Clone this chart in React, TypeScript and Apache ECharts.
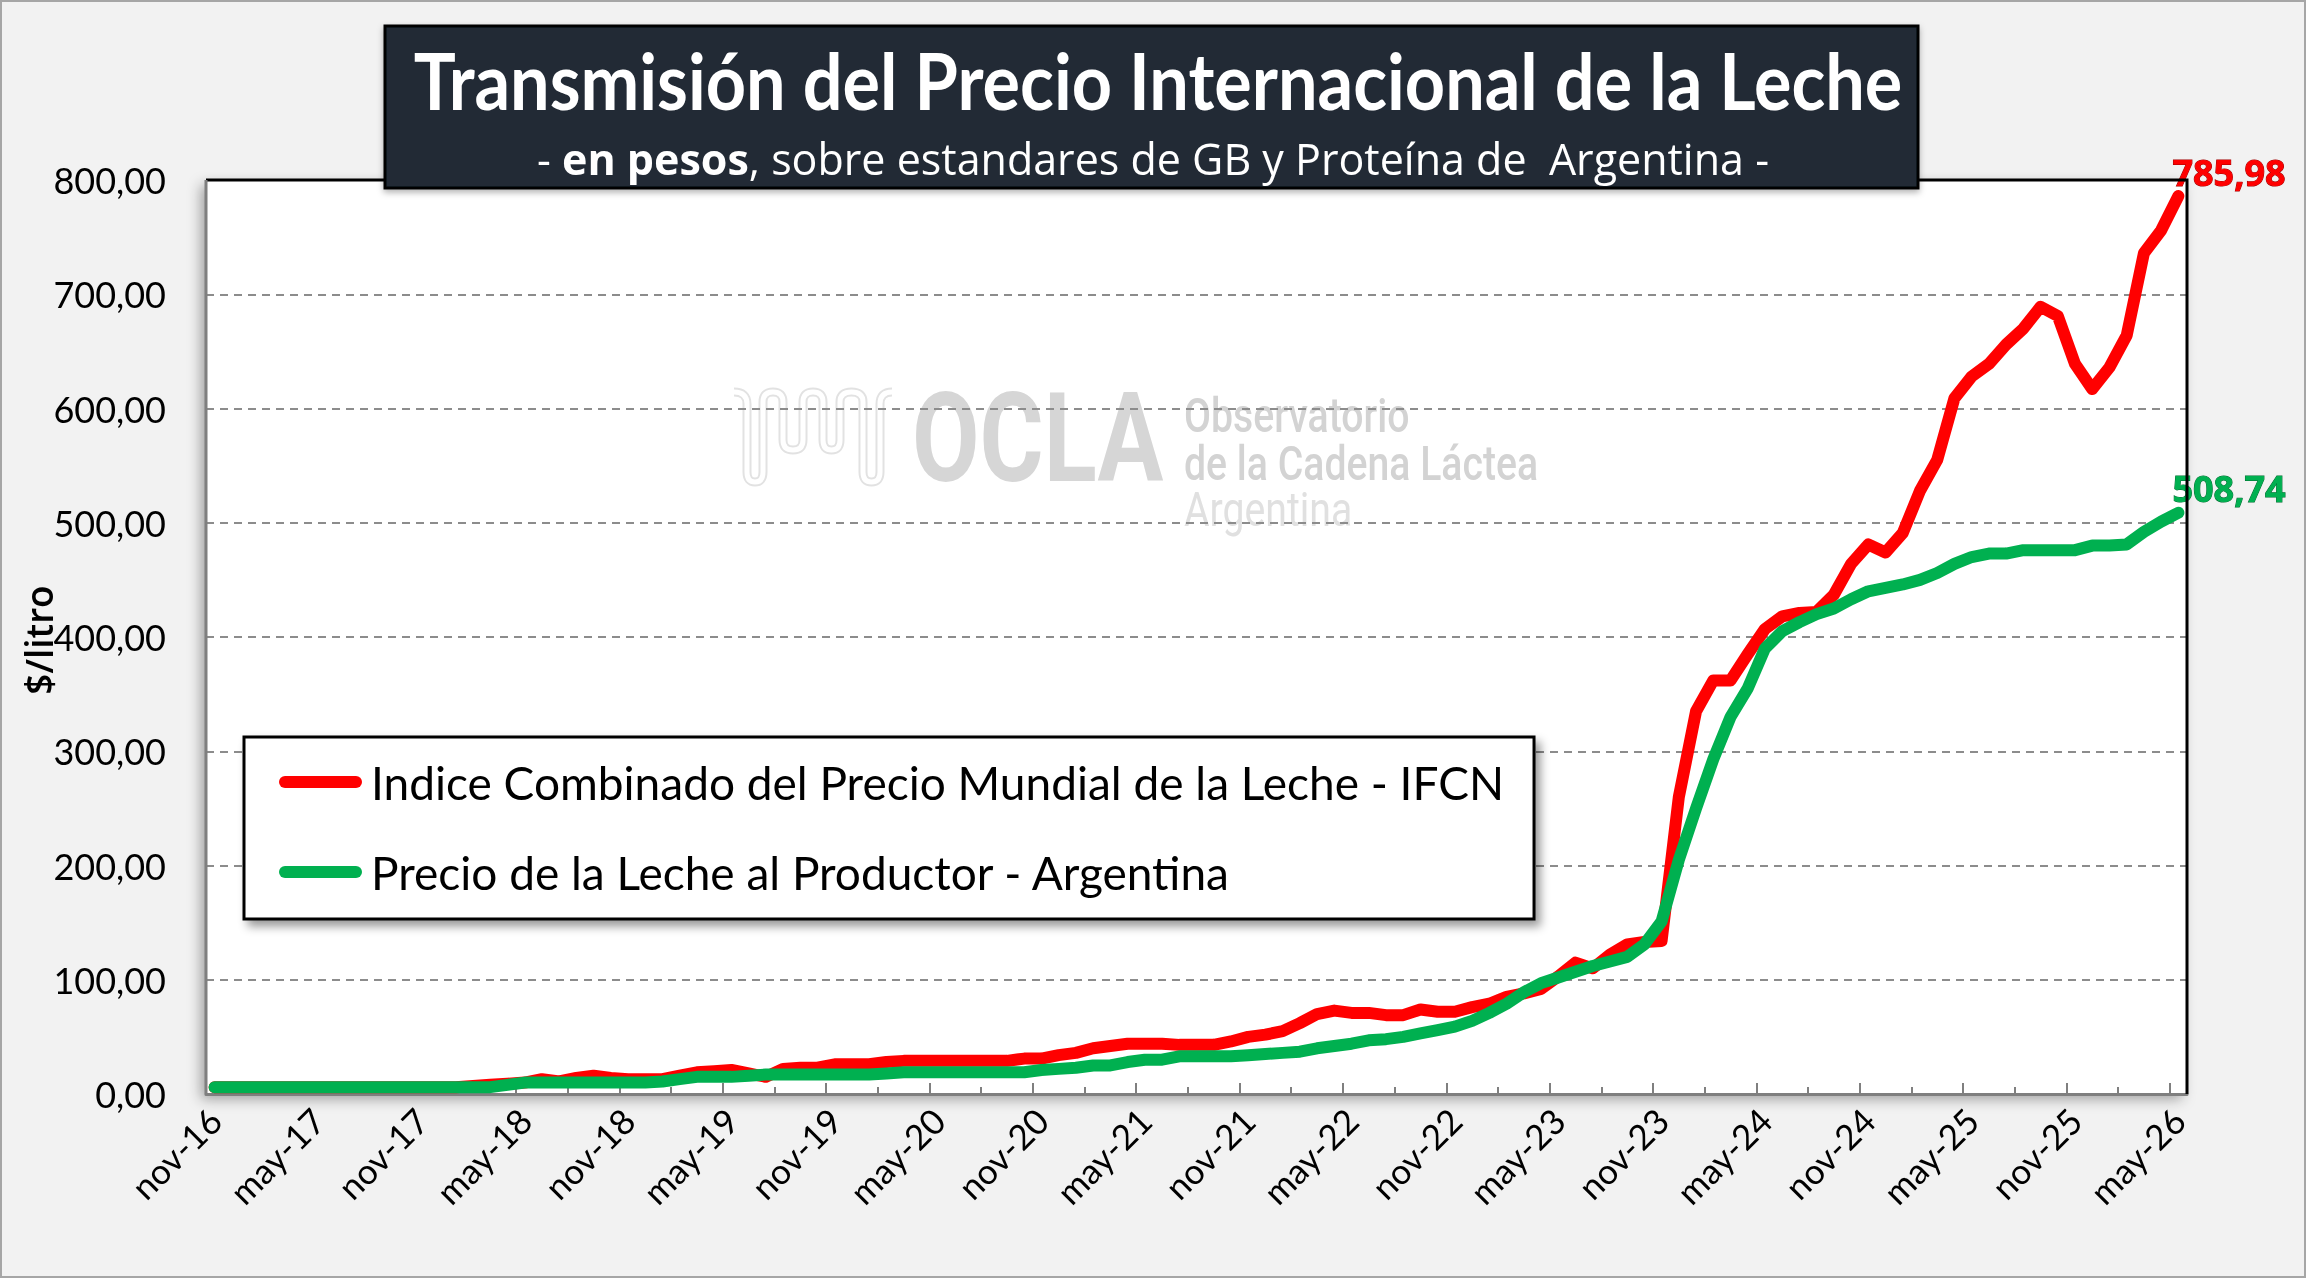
import { useEffect, useRef } from 'react'
import * as echarts from 'echarts'

// meses en castellano, el eje arranca en nov-16
const MONTHS = ['ene', 'feb', 'mar', 'abr', 'may', 'jun', 'jul', 'ago', 'sep', 'oct', 'nov', 'dic']
const START_MONTH = 10 // nov
const START_YEAR = 16
const N_POINTS = 115 // nov-16 .. may-26

const LEGEND_RED = 'Indice Combinado del Precio Mundial de la Leche - IFCN'
const LEGEND_GREEN = 'Precio de la Leche al Productor - Argentina'
const Y_NAME = '$/litro'

// $/litro
const IFCN = [
  6, 6, 6, 6, 6, 6, 6, 6, 6, 6,
  6, 6, 6, 6, 6, 7, 8, 9, 10, 13,
  11, 14, 16, 14, 13, 13, 13, 16, 19, 20,
  21, 18, 15, 22, 23, 23, 26, 26, 26, 28,
  29, 29, 29, 29, 29, 29, 29, 31, 31, 34,
  36, 40, 42, 44, 44, 44, 43, 43, 43, 46,
  50, 52, 55, 62, 70, 73, 71, 71, 69, 69,
  74, 72, 72, 76, 79, 85, 88, 92, 103, 115,
  110, 122, 131, 133, 134, 260, 335, 362, 362, 385,
  407, 418, 421, 422, 437, 464, 481, 474, 491, 528,
  555, 609, 628, 639, 656, 670, 689, 681, 639, 617,
  636, 664, 736, 756, 785.98,
]

const PRODUCTOR = [
  6, 6, 6, 6, 6, 6, 6, 6, 6, 6,
  6, 6, 6, 6, 6, 6, 6, 8, 10, 10,
  10, 10, 10, 10, 10, 10, 11, 13, 15, 15,
  15, 16, 17, 17, 17, 17, 17, 17, 17, 18,
  19, 19, 19, 19, 19, 19, 19, 19, 21, 22,
  23, 25, 25, 28, 30, 30, 33, 33, 33, 33,
  34, 35, 36, 37, 40, 42, 44, 47, 48, 50,
  53, 56, 59, 64, 71, 79, 89, 97, 102, 107,
  112, 116, 120, 131, 151, 205, 250, 293, 330, 355,
  390, 405, 413, 420, 425, 433, 440, 443, 446, 450,
  456, 464, 470, 473, 473, 476, 476, 476, 476, 480,
  480, 481, 492, 501, 508.74,
]

const CATEGORIES = Array.from({ length: N_POINTS }, (_, k) => {
  const m = (START_MONTH + k) % 12
  const y = START_YEAR + Math.floor((START_MONTH + k) / 12)
  return `${MONTHS[m]}-${y}`
})

const RED = '#ff0000'
const GREEN = '#00b050'

// área de trazado (px)
const PLOT = { left: 206, top: 180, width: 1981, height: 914 }

const LOGO_D =
  'M14 12 Q27 12 27 24 L27 92 Q27 102 35 102 Q43 102 43 92 L43 22 Q43 12 53 12 Q63 12 63 22 ' +
  'L63 60 Q63 70 73 70 Q83 70 83 60 L83 22 Q83 12 93 12 Q103 12 103 22 L103 60 Q103 70 111.5 70 ' +
  'Q120 70 120 60 L120 22 Q120 12 131.5 12 Q143 12 143 22 L143 92 Q143 102 151.5 102 Q160 102 160 92 ' +
  'L160 24 Q160 12 172 12'
echarts.graphic.registerShape('oclaWave', echarts.graphic.extendPath(LOGO_D, {}))

const LEGEND_ICON = 'path://M6,0 L77,0 A6,6 0 0 1 77,12 L6,12 A6,6 0 0 1 6,0 Z'

const fmt = (v: number) => v.toFixed(2).replace('.', ',')

const textStyle = (extra: Record<string, unknown>) =>
  ({ textAlign: 'left', textVerticalAlign: 'middle', align: 'left', verticalAlign: 'middle', ...extra }) as any

function buildOption(): echarts.EChartsOption {
  const right = PLOT.left + PLOT.width
  const bottom = PLOT.top + PLOT.height
  return {
    animation: false,
    grid: { left: PLOT.left, top: PLOT.top, width: PLOT.width, height: PLOT.height, show: false },
    legend: {
      orient: 'vertical',
      left: 244,
      top: 737,
      padding: [22, 30, 24, 35],
      itemGap: 44,
      itemWidth: 83,
      itemHeight: 12,
      icon: LEGEND_ICON,
      backgroundColor: '#ffffff',
      borderColor: '#000000',
      borderWidth: 3,
      shadowBlur: 10,
      shadowColor: 'rgba(0,0,0,0.4)',
      shadowOffsetX: 5,
      shadowOffsetY: 6,
      textStyle: { fontFamily: 'Lato', fontSize: 46, color: '#000000', padding: [0, 0, 0, 4] },
      data: [LEGEND_RED, LEGEND_GREEN],
    },
    xAxis: [
      {
        type: 'category',
        data: CATEGORIES,
        boundaryGap: true,
        position: 'bottom',
        axisLine: { lineStyle: { color: '#7f7f7f', width: 3 } },
        axisTick: { show: true, inside: true, interval: 5, length: 11, lineStyle: { color: '#7f7f7f', width: 2 } },
        axisLabel: { interval: 5, rotate: 45, margin: 20, fontFamily: 'Lato', fontSize: 35, color: '#000000' },
        splitLine: { show: false },
      },
      {
        type: 'category',
        data: CATEGORIES,
        boundaryGap: true,
        position: 'bottom',
        axisLine: { show: false },
        axisLabel: { show: false },
        axisTick: { show: true, inside: true, interval: 2, length: 7, lineStyle: { color: '#7f7f7f', width: 2 } },
        splitLine: { show: false },
      },
    ],
    yAxis: {
      type: 'value',
      min: 0,
      max: 800,
      interval: 100,
      axisLine: { show: false },
      axisTick: { show: false },
      axisLabel: { formatter: (v: number) => fmt(v), fontFamily: 'Lato', fontSize: 36, color: '#000000', margin: 40 },
      splitLine: { lineStyle: { color: '#8c8c8c', type: [8, 6], width: 2 } },
    },
    series: [
      {
        name: LEGEND_RED,
        type: 'line',
        data: IFCN,
        symbol: 'none',
        z: 3,
        itemStyle: { color: RED },
        lineStyle: { color: RED, width: 12, cap: 'round', join: 'round' },
        endLabel: {
          show: true,
          formatter: (p: any) => fmt(Number(Array.isArray(p.value) ? p.value[1] : p.value)),
          color: RED,
          fontFamily: 'Open Sans',
          fontWeight: 'bold',
          fontSize: 36,
          textBorderColor: '#a00000',
          textBorderWidth: 1,
          distance: 0,
          offset: [-6, -24],
        },
      },
      {
        name: LEGEND_GREEN,
        type: 'line',
        data: PRODUCTOR,
        symbol: 'none',
        z: 4,
        itemStyle: { color: GREEN },
        lineStyle: { color: GREEN, width: 12, cap: 'round', join: 'round' },
        endLabel: {
          show: true,
          formatter: (p: any) => fmt(Number(Array.isArray(p.value) ? p.value[1] : p.value)),
          color: GREEN,
          fontFamily: 'Open Sans',
          fontWeight: 'bold',
          fontSize: 36,
          textBorderColor: '#006b30',
          textBorderWidth: 1,
          distance: 0,
          offset: [-6, -24],
        },
      },
    ],
    graphic: [
      // fondo general
      {
        type: 'rect',
        z: -30,
        shape: { x: 1, y: 1, width: 2304, height: 1276 },
        style: { fill: '#f2f2f2', stroke: '#a6a6a6', lineWidth: 2 },
      },
      // fondo del área de trazado
      {
        type: 'rect',
        z: -20,
        shape: { x: PLOT.left, y: PLOT.top, width: PLOT.width, height: PLOT.height },
        style: {
          fill: '#ffffff',
          shadowBlur: 14,
          shadowOffsetX: -5,
          shadowOffsetY: 5,
          shadowColor: 'rgba(0,0,0,0.35)',
        },
      },
      // marca de agua OCLA
      { type: 'oclaWave', z: -10, x: 720, y: 380, style: { fill: 'none', stroke: '#e2e2e2', lineWidth: 9 } } as any,
      { type: 'oclaWave', z: -9, x: 720, y: 380, style: { fill: 'none', stroke: '#ffffff', lineWidth: 5 } } as any,
      {
        type: 'group',
        z: -10,
        x: 912,
        y: 438,
        scaleX: 0.79,
        children: [
          {
            type: 'text',
            z: -10,
            style: textStyle({ text: 'OCLA', x: 0, y: 0, fill: '#d6d6d6', font: 'bold 124px Roboto' }),
          },
        ],
      },
      {
        type: 'group',
        z: -10,
        x: 1184,
        y: 0,
        scaleX: 0.8,
        children: [
          { text: 'Observatorio', y: 415, fill: '#d3d3d3', weight: 500 },
          { text: 'de la Cadena Láctea', y: 463, fill: '#d3d3d3', weight: 500 },
          { text: 'Argentina', y: 509, fill: '#e0e0e0', weight: 400 },
        ].map((t) => ({
          type: 'text' as const,
          z: -10,
          style: textStyle({ text: t.text, x: 0, y: t.y, fill: t.fill, font: `${t.weight} 49px Roboto` }),
        })),
      },
      // título del eje Y
      {
        type: 'text',
        z: 6,
        x: 38,
        y: 640,
        rotation: Math.PI / 2,
        style: textStyle({
          text: Y_NAME,
          x: 0,
          y: 0,
          fill: '#000000',
          font: '600 37px "Open Sans"',
          textAlign: 'center',
          align: 'center',
        }),
      },
      // borde del área de trazado
      {
        type: 'polyline',
        z: 5,
        shape: { points: [[PLOT.left, PLOT.top], [right, PLOT.top], [right, bottom]] },
        style: { stroke: '#000000', lineWidth: 3, fill: 'none' },
      },
      {
        type: 'line',
        z: 5,
        shape: { x1: PLOT.left, y1: PLOT.top, x2: PLOT.left, y2: bottom },
        style: { stroke: '#7f7f7f', lineWidth: 3 },
      },
      // caja de título
      {
        type: 'rect',
        z: 20,
        shape: { x: 385, y: 26, width: 1533, height: 162 },
        style: { fill: '#222a35', stroke: '#000000', lineWidth: 3, shadowBlur: 6, shadowColor: 'rgba(0,0,0,0.3)', shadowOffsetY: 3 },
      },
      {
        type: 'group',
        z: 21,
        x: 1158,
        y: 80,
        scaleX: 0.9,
        children: [
          {
            type: 'text',
            z: 21,
            style: textStyle({
              text: 'Transmisión del Precio Internacional de la Leche',
              x: 0,
              y: 0,
              fill: '#ffffff',
              font: 'bold 78px Lato',
              textAlign: 'center',
              align: 'center',
            }),
          },
        ],
      },
      {
        type: 'text',
        z: 21,
        style: textStyle({
          text: '{a|- }{b|en pesos}{a|, sobre estandares de GB y Proteína de  Argentina -}',
          x: 1153,
          y: 158,
          fill: '#ffffff',
          font: '43px "Open Sans"',
          textAlign: 'center',
          align: 'center',
          rich: {
            a: { fill: '#ffffff', fontSize: 43, fontFamily: 'Open Sans', fontWeight: 'normal' },
            b: { fill: '#ffffff', fontSize: 43, fontFamily: 'Open Sans', fontWeight: 'bold' },
          },
        }),
      },
    ],
  }
}

export default function App() {
  const ref = useRef<HTMLDivElement>(null)

  useEffect(() => {
    const el = ref.current
    if (!el) return
    const chart = echarts.init(el, undefined, { renderer: 'svg' })
    chart.setOption(buildOption())
    return () => {
      chart.dispose()
    }
  }, [])

  return <div ref={ref} style={{ position: 'fixed', left: 0, top: 0, width: 2306, height: 1278 }} />
}
